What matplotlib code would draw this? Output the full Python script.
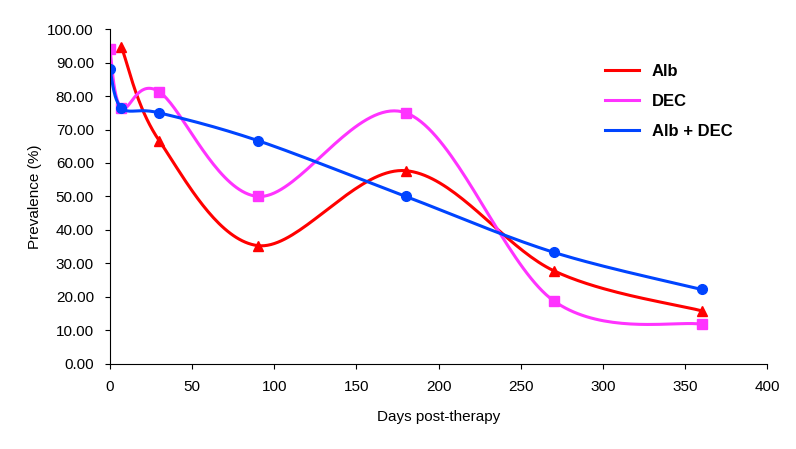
import numpy as np
import matplotlib.pyplot as plt
from matplotlib.ticker import FormatStrFormatter

plt.rcParams['font.family'] = ['Liberation Sans', 'DejaVu Sans']

days_alb = [7, 30, 90, 180, 270, 360]
alb = [94.7, 66.7, 35.3, 57.7, 27.8, 15.8]
days_dec = [0, 7, 30, 90, 180, 270, 360]
dec = [94.1, 76.5, 81.3, 50.0, 75.0, 18.8, 11.8]
days_both = [0, 7, 30, 90, 180, 270, 360]
both = [88.2, 76.5, 75.0, 66.7, 50.0, 33.3, 22.2]


def smooth(x, y, n=40):
    # Catmull-Rom style smoothing like Excel's smoothed lines
    x = np.asarray(x, float)
    y = np.asarray(y, float)
    px = np.concatenate([[x[0]], x, [x[-1]]])
    py = np.concatenate([[y[0]], y, [y[-1]]])
    xs, ys = [], []
    t = np.linspace(0, 1, n)
    for i in range(1, len(px) - 2):
        p0, p1, p2, p3 = [np.array([px[j], py[j]]) for j in range(i - 1, i + 3)]
        c1 = p1 + (p2 - p0) / 6
        c2 = p2 - (p3 - p1) / 6
        b = ((1 - t) ** 3)[:, None] * p1 + (3 * (1 - t) ** 2 * t)[:, None] * c1 \
            + (3 * (1 - t) * t ** 2)[:, None] * c2 + (t ** 3)[:, None] * p2
        xs.extend(b[:, 0])
        ys.extend(b[:, 1])
    return xs, ys


fig = plt.figure(figsize=(7.96, 4.49), dpi=100)
ax = fig.add_axes([0.138, 0.19, 0.826, 0.745])

series = [
    (days_alb, alb, '#ff0000', '^', 'Alb'),
    (days_dec, dec, '#ff33ff', 's', 'DEC'),
    (days_both, both, '#0044ff', 'o', 'Alb + DEC'),
]
for x, y, c, m, lab in series:
    sx, sy = smooth(x, y)
    ax.plot(sx, sy, color=c, lw=2.2, label=lab)
    ax.plot(x, y, ls='none', marker=m, color=c, ms=7)

ax.set_xlim(0, 400)
ax.set_ylim(0, 100)
ax.set_xticks(range(0, 401, 50))
ax.set_yticks(range(0, 101, 10))
ax.yaxis.set_major_formatter(FormatStrFormatter('%.2f'))
ax.tick_params(labelsize=11, pad=8)
ax.spines['top'].set_visible(False)
ax.spines['right'].set_visible(False)
ax.set_xlabel('Days post-therapy', fontsize=11, labelpad=12)
ax.set_ylabel('Prevalence (%)', fontsize=11)

leg = ax.legend(loc='upper right', bbox_to_anchor=(0.97, 0.94), frameon=False,
                prop={'weight': 'bold', 'size': 12}, handlelength=2, labelspacing=0.9)

fig.savefig('out.png', dpi=100)
